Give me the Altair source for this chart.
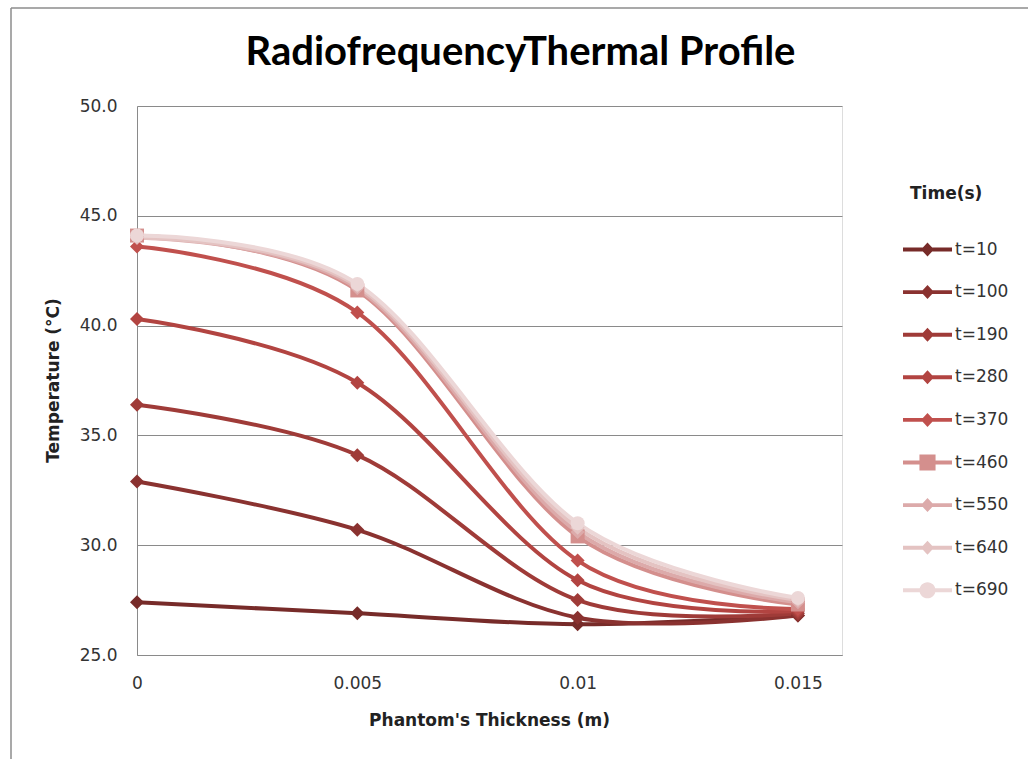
import altair as alt
import pandas as pd

# ---- data ----
thickness = [0, 0.005, 0.01, 0.015]
series = ["t=10", "t=100", "t=190", "t=280", "t=370", "t=460", "t=550", "t=640", "t=690"]
t10 = [27.4, 26.9, 26.4, 26.8]
t100 = [32.9, 30.7, 26.7, 26.8]
t190 = [36.4, 34.1, 27.5, 26.9]
t280 = [40.3, 37.4, 28.4, 27.0]
t370 = [43.6, 40.6, 29.3, 27.1]
t460 = [44.1, 41.6, 30.4, 27.3]
t550 = [44.0, 41.7, 30.6, 27.4]
t640 = [44.0, 41.8, 30.8, 27.5]
t690 = [44.1, 41.9, 31.0, 27.6]
values = [t10, t100, t190, t280, t370, t460, t550, t640, t690]

colors = ["#772b29", "#8a3230", "#9f3b38", "#b24441", "#c0504d",
          "#d48f8d", "#dcaaaa", "#e4c3c2", "#ecd7d7"]
marker_shapes = ["diamond", "diamond", "diamond", "diamond", "diamond",
                 "square", "diamond", "diamond", "circle"]
marker_sizes = [196, 196, 196, 196, 196, 256, 196, 196, 289]

y_ticks = [25, 30, 35, 40, 45, 50]

rows = []
for i, (name, vals) in enumerate(zip(series, values)):
    for x, v in zip(thickness, vals):
        rows.append({"series": name, "order": i, "x": x, "temp": v})
df = pd.DataFrame(rows)

# legend symbols: line segment + marker (unit box -1..1 == symbol size)
LINE = "M-1.4,-0.11L1.4,-0.11L1.4,0.11L-1.4,0.11Z"
MARK = {
    "diamond": "M0,-0.4L0.37,0L0,0.4L-0.37,0Z",
    "square": "M-0.46,-0.46L0.46,-0.46L0.46,0.46L-0.46,0.46Z",
    "circle": "M-0.46,0A0.46,0.46,0,1,1,0.46,0A0.46,0.46,0,1,1,-0.46,0Z",
}
legend_paths = [LINE + MARK[s] for s in marker_shapes]

FONT = "DejaVu Sans"
GRID = "#8a8a8a"

x_enc = alt.X("x:Q", scale=alt.Scale(domain=[0, 0.016], nice=False, zero=False),
              axis=alt.Axis(values=thickness, format="~g", grid=False, ticks=False,
                            domainColor=GRID, domainWidth=1,
                            labelFont=FONT, labelFontSize=17, labelColor="#333333",
                            labelPadding=20, labelFlush=False,
                            title="Phantom's Thickness  (m)", titleFont=FONT,
                            titleFontSize=17, titleFontWeight="bold", titleColor="#222222",
                            titleX=352, titleY=65, titleBaseline="middle"))
y_enc = alt.Y("temp:Q", scale=alt.Scale(domain=[25, 50], nice=False, zero=False),
              axis=alt.Axis(values=y_ticks, format=".1f", grid=True, gridColor=GRID,
                            gridWidth=1, ticks=False, domainColor=GRID, domainWidth=1,
                            labelFont=FONT, labelFontSize=17, labelColor="#333333",
                            labelPadding=20,
                            title="Temperature (°C)", titleFont=FONT, titleFontSize=17,
                            titleFontWeight="bold", titleColor="#222222",
                            titleX=-84, titleY=274, titleBaseline="middle",
                            titleAlign="center", titleAngle=-90))

color_scale = alt.Scale(domain=series, range=colors)

lines = alt.Chart(df).mark_line(interpolate="cardinal", tension=0, strokeWidth=4).encode(
    x=x_enc, y=y_enc,
    color=alt.Color("series:N", scale=color_scale, legend=None),
    order=alt.Order("x:Q"),
)

points = alt.Chart(df).mark_point(filled=True, opacity=1).encode(
    x="x:Q", y="temp:Q",
    color=alt.Color("series:N", scale=color_scale, legend=None),
    shape=alt.Shape("series:N", scale=alt.Scale(domain=series, range=marker_shapes), legend=None),
    size=alt.Size("series:N", scale=alt.Scale(domain=series, range=marker_sizes), legend=None),
    order=alt.Order("order:Q"),
)

legend_props = dict(title="Time(s)", orient="none", legendX=773, legendY=80,
                    titleFont=FONT, titleFontSize=17, titleFontWeight="bold",
                    titleColor="#222222", titlePadding=29,
                    labelFont=FONT, labelFontSize=17, labelColor="#333333",
                    labelOffset=10, symbolSize=1225, symbolOpacity=1,
                    symbolStrokeWidth=0, rowPadding=16.6, padding=0)

legend_layer = alt.Chart(df).mark_point(filled=True, opacity=0).encode(
    x="x:Q", y="temp:Q",
    color=alt.Color("series:N", scale=color_scale, legend=alt.Legend(**legend_props)),
    shape=alt.Shape("series:N", scale=alt.Scale(domain=series, range=legend_paths),
                    legend=alt.Legend(**legend_props)),
)

border = alt.Chart(alt.Data(values=[{}])).mark_rule(color="#8c8c8c", strokeWidth=1.5).encode(
    x=alt.value(-126), y=alt.value(-98), y2=alt.value(700)
)
border_top = alt.Chart(alt.Data(values=[{}])).mark_rule(color="#8c8c8c", strokeWidth=1.5).encode(
    x=alt.value(-126), x2=alt.value(1000), y=alt.value(-98)
)

chart = alt.layer(border, border_top, lines, points, legend_layer).resolve_scale(
    shape="independent", color="independent", size="independent"
).properties(
    width=705, height=549,
    autosize=alt.AutoSizeParams(type="none"),
    padding={"left": 137, "top": 106, "right": 186, "bottom": 104},
    title=alt.TitleParams("RadiofrequencyThermal Profile", font="Lato", fontSize=40,
                          fontWeight="bold", color="#000000", anchor="middle",
                          frame="group", dx=31, offset=-98, baseline="alphabetic"),
).configure_view(stroke=None).configure(background="white")

chart.save("out.html", embed_options={"renderer": "svg", "actions": False})
